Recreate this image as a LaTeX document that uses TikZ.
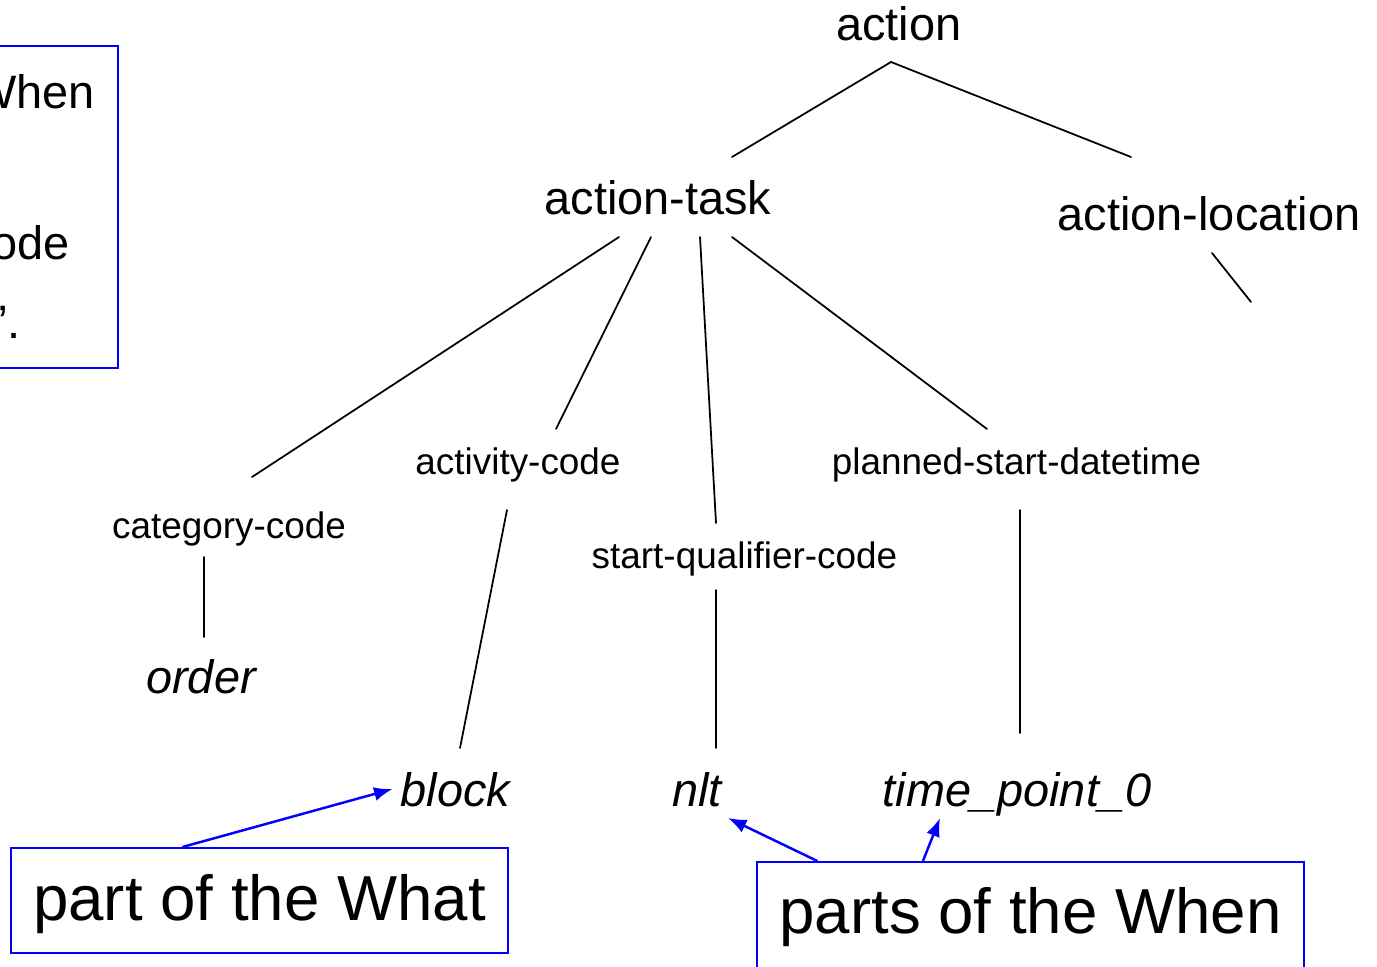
\documentclass[tikz,border=0pt]{standalone}
\usepackage{fontspec}
\setmainfont{Liberation Sans}
\usetikzlibrary{arrows.meta}

\begin{document}
\begin{tikzpicture}[x=0.02cm,y=-0.02cm,cap=round,>={Latex[length=10.5pt,width=8pt]},
	tree/.style={inner sep=0pt,anchor=base,font=\fontsize{26.7}{32}\selectfont},
	attr/.style={inner sep=0pt,anchor=base,font=\fontsize{21}{25}\selectfont},
	leaf/.style={inner sep=0pt,anchor=base,font=\fontsize{26.7}{32}\selectfont\itshape},
	link/.style={line width=1pt},
	note/.style={draw=blue,line width=1.3pt,inner sep=0pt,anchor=base,font=\fontsize{36.2}{40}\selectfont},
	pointer/.style={->,blue,line width=1.4pt}]

	% page frame
	\useasboundingbox (0,0) rectangle (1377,967);
	\clip (0,0) rectangle (1377,967);

	% box cut off at the left margin
	\node[draw=blue,line width=1.3pt,inner sep=0pt,minimum width=10.36cm,minimum height=6.44cm] (cutbox) at (-141,207) {};
	\node[tree,anchor=base east] (cutwhen) at (95,108) {When};
	\node[tree,anchor=base east] (cutcode) at (70,259) {code};
	\node[tree,anchor=base east] (cutquote) at (21,338) {”.};

	% the tree
	\node[tree] (action) at (899,40) {action};
	\node[tree] (task) at (658,214) {action-task};
	\node[tree] (loc) at (1209,230) {action-location};
	\coordinate (locstub) at (1251,302);

	\node[attr] (cat) at (229,538) {category-code};
	\node[attr] (act) at (518,474) {activity-code};
	\node[attr] (sqc) at (744.5,568) {start-qualifier-code};
	\node[attr] (psd) at (1016.5,474) {planned-start-datetime};

	\node[leaf] (order) at (201,693) {order};
	\node[leaf] (block) at (455.5,806) {block};
	\node[leaf] (nlt) at (697,806) {nlt};
	\node[leaf] (tp) at (1017,806) {time\_point\_0};

	% branches
	\draw[link] ([shift={(-8,22)}]action.base) -- ([shift={(74,-57)}]task.base);
	\draw[link] ([shift={(-8,22)}]action.base) -- ([shift={(-78,-73)}]loc.base);
	\draw[link] ([shift={(-39,23)}]task.base) -- ([shift={(23,-61)}]cat.base);
	\draw[link] ([shift={(-7,23)}]task.base) -- ([shift={(38,-45)}]act.base);
	\draw[link] ([shift={(42,23)}]task.base) -- ([shift={(-28.5,-45)}]sqc.base);
	\draw[link] ([shift={(74,23)}]task.base) -- ([shift={(-29.5,-45)}]psd.base);
	\draw[link] ([shift={(3,23)}]loc.base) -- (locstub);
	\draw[link] ([shift={(-25,19)}]cat.base) -- ([shift={(3,-56)}]order.base);
	\draw[link] ([shift={(-11,36)}]act.base) -- ([shift={(4.5,-58)}]block.base);
	\draw[link] ([shift={(-28.5,22)}]sqc.base) -- ([shift={(19,-58)}]nlt.base);
	\draw[link] ([shift={(3.5,36)}]psd.base) -- ([shift={(3,-73)}]tp.base);

	% the two notes
	\node[note,minimum width=9.94cm,text height=1.44cm,text depth=0.66cm] (whatbox) at (259.5,920) {part of the What};
	\node[note,minimum width=10.94cm,text height=1.42cm,text depth=1.4cm] (whenbox) at (1030.5,933) {parts of the When};

	% pointers from the notes
	\draw[pointer] ([shift={(-76.5,0)}]whatbox.north) -- ([shift={(-63,-17)}]block.base);
	\draw[pointer] ([shift={(-213.5,0)}]whenbox.north) -- ([shift={(31,12)}]nlt.base);
	\draw[pointer] ([shift={(-107.5,0)}]whenbox.north) -- ([shift={(-77,12)}]tp.base);
\end{tikzpicture}
\end{document}
